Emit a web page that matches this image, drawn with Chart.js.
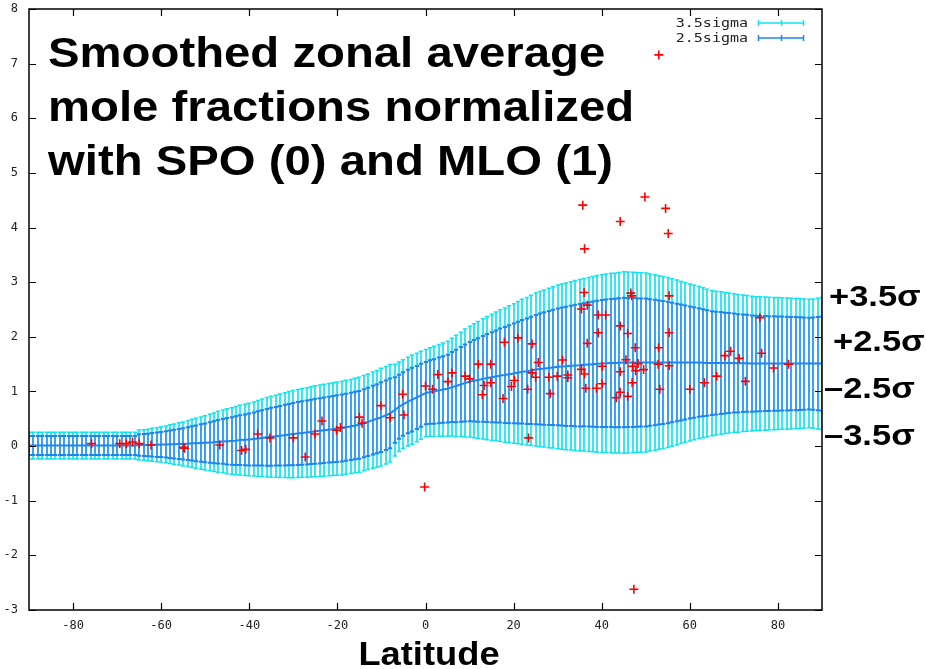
<!DOCTYPE html>
<html>
<head>
<meta charset="utf-8">
<script src="https://cdn.jsdelivr.net/npm/chart.js"></script>
<style>
  body { margin: 0; background: #fff; }
  #wrap { width: 926px; height: 669px; }
</style>
</head>
<body>
<div id="wrap"><canvas id="myChart" width="926" height="669"></canvas></div>
<script>
// latitude grid of the smoothed curve: one bar per degree from -90 to 90
const latStart = -90;
const latStep = 1;

// smoothed zonal average (normalized), one value per degree
const center = [
  0.01, 0.01, 0.01, 0.01, 0.01, 0.01, 0.01, 0.01, 0.01, 0.01,
  0.01, 0.01, 0.01, 0.01, 0.01, 0.01, 0.01, 0.01, 0.01, 0.01,
  0.01, 0.01, 0.01, 0.01, 0.01,
  0.02, 0.02, 0.02, 0.025, 0.025, 0.03,
  0.03, 0.035, 0.035, 0.04, 0.04,
  0.045, 0.05, 0.05, 0.055, 0.06,
  0.065, 0.07, 0.08, 0.085, 0.09,
  0.095, 0.10, 0.11, 0.115, 0.12,
  0.13, 0.14, 0.15, 0.16, 0.17,
  0.18, 0.19, 0.20, 0.21, 0.22,
  0.23, 0.24, 0.25, 0.26, 0.27,
  0.28, 0.29, 0.30, 0.31, 0.32,
  0.33, 0.345, 0.36, 0.375, 0.39,
  0.42, 0.445, 0.475, 0.50, 0.53,
  0.565, 0.60, 0.66, 0.72, 0.77,
  0.815, 0.85, 0.89, 0.93, 0.97,
  0.99, 1.00, 1.02, 1.035, 1.05,
  1.08, 1.10, 1.13, 1.155, 1.18,
  1.195, 1.21, 1.23, 1.245, 1.26,
  1.275, 1.29, 1.30, 1.315, 1.33,
  1.345, 1.36, 1.37, 1.385, 1.40,
  1.41, 1.42, 1.43, 1.44, 1.45,
  1.455, 1.46, 1.47, 1.475, 1.48,
  1.49, 1.495, 1.50, 1.505, 1.51,
  1.515, 1.52, 1.52, 1.525, 1.53,
  1.53, 1.53, 1.53, 1.53, 1.53, 1.53, 1.53, 1.53, 1.53, 1.53,
  1.53, 1.53, 1.53, 1.53, 1.53,
  1.53, 1.53, 1.525, 1.52, 1.52, 1.52, 1.52, 1.52, 1.52, 1.52,
  1.515, 1.515, 1.515, 1.51, 1.51,
  1.51, 1.51, 1.51, 1.51, 1.51, 1.51, 1.51, 1.51, 1.51, 1.51,
  1.51, 1.51, 1.51, 1.51, 1.51
];

// smoothed standard deviation, one value per degree
const sigma = [
  0.070, 0.070, 0.070, 0.070, 0.070, 0.070, 0.070, 0.070, 0.070, 0.070,
  0.070, 0.070, 0.070, 0.070, 0.070, 0.070, 0.070, 0.070, 0.070, 0.070,
  0.070, 0.070, 0.070, 0.070, 0.070,
  0.078, 0.080, 0.083, 0.086, 0.089, 0.092,
  0.096, 0.101, 0.105, 0.110, 0.115,
  0.120, 0.126, 0.131, 0.137, 0.142,
  0.148, 0.153, 0.159, 0.164, 0.170,
  0.174, 0.178, 0.182, 0.186, 0.190,
  0.194, 0.199, 0.203, 0.208, 0.212,
  0.215, 0.218, 0.222, 0.225, 0.228,
  0.230, 0.232, 0.234, 0.236, 0.238,
  0.239, 0.240, 0.241, 0.243, 0.244,
  0.245, 0.246, 0.246, 0.247, 0.248,
  0.249, 0.250, 0.252, 0.253, 0.255,
  0.255, 0.255, 0.240, 0.234, 0.232,
  0.232, 0.233, 0.231, 0.230, 0.228,
  0.232, 0.236, 0.240, 0.244, 0.248,
  0.256, 0.265, 0.273, 0.282, 0.290,
  0.298, 0.306, 0.314, 0.322, 0.330,
  0.337, 0.344, 0.351, 0.358, 0.365,
  0.372, 0.379, 0.386, 0.393, 0.400,
  0.406, 0.411, 0.417, 0.422, 0.428,
  0.432, 0.436, 0.440, 0.444, 0.448,
  0.451, 0.455, 0.458, 0.462, 0.465,
  0.467, 0.469, 0.470, 0.472, 0.474,
  0.473, 0.472, 0.470, 0.469, 0.468,
  0.463, 0.459, 0.454, 0.450, 0.445,
  0.438, 0.431, 0.424, 0.417, 0.410,
  0.404, 0.398, 0.392, 0.386, 0.380,
  0.376, 0.373, 0.369, 0.366, 0.362,
  0.360, 0.357, 0.355, 0.352, 0.350,
  0.349, 0.348, 0.347, 0.346, 0.345,
  0.344, 0.343, 0.342, 0.341, 0.340,
  0.338, 0.336, 0.338, 0.342, 0.345
];

// station values (red crosses)
const pointLat = [
  -75.8, -69.4, -67.9, -66.5, -65.0, -62.3, -54.9, -54.7, -46.7, -41.75,
  -40.8, -38.1, -35.3, -30.0, -27.3, -25.1, -23.5, -20.2, -19.3, -15.0,
  -14.4, -10.1, -8.0, -5.2, -4.9, -0.2, 0.0, 1.6, 2.8, 5.1,
  6.0, 9.0, 10.0, 12.0, 14.8, 13.3, 14.8, 12.9, 17.9, 21.0,
  24.2, 20.2, 19.5, 17.6, 25.6, 24.2, 25.0, 23.2, 23.4, 28.0,
  29.9, 28.3, 31.1, 32.3, 32.3, 36.0, 36.7, 35.4, 39.2, 40.9,
  39.2, 36.7, 35.4, 36.1, 40.1, 40.1, 36.4, 38.8, 44.2, 45.9,
  47.6, 45.5, 47.0, 47.7, 48.25, 49.5, 44.2, 46.9, 44.2, 43.3,
  45.9, 46.6, 46.8, 55.3, 55.3, 52.9, 52.8, 55.3, 53.2, 60.0,
  63.3, 66.1, 67.95, 69.25, 71.2, 72.6, 75.9, 76.3, 79.0, 82.4,
  35.7, 49.8, 54.5, 44.2, 55.1, 36.1, 52.95, 47.3
];
const pointVal = [
  0.045, 0.045, 0.045, 0.075, 0.045, 0.02, -0.02, -0.04, 0.02, -0.08,
  -0.06, 0.22, 0.15, 0.15, -0.2, 0.22, 0.46, 0.29, 0.34, 0.53,
  0.42, 0.74, 0.52, 0.95, 0.57, -0.75, 1.10, 1.04, 1.31, 1.18,
  1.34, 1.28, 1.23, 1.50, 1.50, 1.11, 1.16, 0.94, 1.90, 1.98,
  1.87, 1.20, 1.09, 0.87, 1.53, 1.34, 1.26, 1.04, 0.15, 1.26,
  1.28, 0.96, 1.575, 1.30, 1.25, 2.81, 2.58, 2.51, 2.40, 2.40,
  2.075, 1.88, 1.405, 1.32, 1.46, 1.14, 1.06, 1.06, 2.20, 2.06,
  1.80, 1.58, 1.46, 1.38, 1.51, 1.40, 1.36, 1.16, 0.985, 0.885,
  0.91, 2.80, 2.75, 2.75, 2.075, 1.80, 1.50, 1.47, 1.04, 1.04,
  1.16, 1.28, 1.655, 1.735, 1.605, 1.185, 2.35, 1.70, 1.43, 1.50,
  4.41, 4.56, 4.35, 4.11, 3.89, 3.61, 7.16, -2.62
];

const xTicks = [-80, -60, -40, -20, 0, 20, 40, 60, 80];
const yTicks = [-3, -2, -1, 0, 1, 2, 3, 4, 5, 6, 7, 8];
const bandLevels = [3.5, 2.5];
const bandLabels = ['3.5sigma', '2.5sigma'];
const sideLabels = ['+3.5\u03c3', '+2.5\u03c3', '\u20132.5\u03c3', '\u20133.5\u03c3'];
const titleLines = ['Smoothed zonal average', 'mole fractions normalized', 'with SPO (0) and MLO (1)'];

const CYAN = '#10e4ee';
const BLUE = '#1f84f0';
const BLUE_BAR = '#3a95f5';

const lats = center.map((c, i) => latStart + i * latStep);

// draw the sigma error bars with the chart's scales
const errorBars = {
  id: 'errorBars',
  beforeDatasetsDraw(chart) {
    const {ctx, chartArea, scales: {x, y}} = chart;
    const half = Math.abs(x.getPixelForValue(latStep) - x.getPixelForValue(0)) / 2;
    ctx.save();
    ctx.beginPath();
    ctx.rect(chartArea.left, chartArea.top, chartArea.right - chartArea.left, chartArea.bottom - chartArea.top);
    ctx.clip();
    const styles = [[CYAN, CYAN, 1.5], [BLUE_BAR, BLUE, 2]];
    bandLevels.forEach((k, j) => {
      const [barCol, capCol, capW] = styles[j];
      center.forEach((c, i) => {
        const px = Math.round(x.getPixelForValue(lats[i]));
        const yt = y.getPixelForValue(c + k * sigma[i]);
        const yb = y.getPixelForValue(c - k * sigma[i]);
        ctx.strokeStyle = barCol;
        ctx.lineWidth = 1.7;
        ctx.beginPath();
        ctx.moveTo(px, yt);
        ctx.lineTo(px, yb);
        ctx.stroke();
        ctx.strokeStyle = capCol;
        ctx.lineWidth = capW;
        ctx.beginPath();
        ctx.moveTo(px - half, yt);
        ctx.lineTo(px + half, yt);
        ctx.moveTo(px - half, yb);
        ctx.lineTo(px + half, yb);
        ctx.stroke();
      });
    });
    ctx.restore();
  }
};

function stretchText(ctx, text, x, y, sx, align) {
  ctx.save();
  ctx.translate(x, y);
  ctx.scale(sx, 1);
  ctx.textAlign = align || 'left';
  ctx.fillText(text, 0, 0);
  ctx.restore();
}

// frame, inward ticks and the text annotations
const decorations = {
  id: 'decorations',
  afterDraw(chart) {
    const {ctx, chartArea: a, scales: {x, y}} = chart;
    ctx.save();
    ctx.strokeStyle = '#000';
    ctx.lineWidth = 1.5;
    ctx.strokeRect(a.left, a.top, a.right - a.left, a.bottom - a.top);
    ctx.lineWidth = 1.2;
    ctx.beginPath();
    xTicks.forEach(v => {
      const px = Math.round(x.getPixelForValue(v)) + 0.5;
      ctx.moveTo(px, a.bottom); ctx.lineTo(px, a.bottom - 7);
      ctx.moveTo(px, a.top); ctx.lineTo(px, a.top + 7);
    });
    yTicks.forEach(v => {
      const py = Math.round(y.getPixelForValue(v)) + 0.5;
      ctx.moveTo(a.left, py); ctx.lineTo(a.left + 7, py);
      ctx.moveTo(a.right, py); ctx.lineTo(a.right - 7, py);
    });
    ctx.stroke();

    // legend
    ctx.fillStyle = '#222';
    ctx.font = '12px "DejaVu Sans Mono"';
    ctx.textBaseline = 'alphabetic';
    [CYAN, BLUE].forEach((col, i) => {
      const ly = 23 + i * 15;
      stretchText(ctx, bandLabels[i], 748, ly + 4, 1.25, 'right');
      ctx.strokeStyle = col;
      ctx.lineWidth = 1.5;
      ctx.beginPath();
      ctx.moveTo(758, ly); ctx.lineTo(804, ly);
      ctx.moveTo(758.5, ly - 3); ctx.lineTo(758.5, ly + 3);
      ctx.moveTo(781.5, ly - 3); ctx.lineTo(781.5, ly + 3);
      ctx.moveTo(803.5, ly - 3); ctx.lineTo(803.5, ly + 3);
      ctx.stroke();
    });

    // title block
    ctx.fillStyle = '#000';
    ctx.font = 'bold 43px "Liberation Sans", Arial, sans-serif';
    titleLines.forEach((t, i) => stretchText(ctx, t, 48, 67 + i * 54, 1.1));

    // sigma labels on the right
    ctx.font = 'bold 30px "Liberation Sans", Arial, sans-serif';
    const sx = [829, 833, 824, 824];
    const sy = [306, 351, 398, 445];
    sideLabels.forEach((t, i) => stretchText(ctx, t, sx[i], sy[i], 1.15));

    // x axis title
    ctx.font = 'bold 33px "Liberation Sans", Arial, sans-serif';
    stretchText(ctx, 'Latitude', 429, 665, 1.1, 'center');
    ctx.restore();
  }
};

const ctx = document.getElementById('myChart').getContext('2d');
const chart = new Chart(ctx, {
  type: 'scatter',
  data: {
    datasets: [{
      type: 'scatter',
      data: pointLat.map((v, i) => ({x: v, y: pointVal[i]})),
      pointStyle: 'cross',
      pointRadius: 4.5,
      borderColor: '#ff0000',
      backgroundColor: '#ff0000',
      borderWidth: 1.6,
      order: 0
    }, {
      type: 'line',
      data: center.map((c, i) => ({x: lats[i], y: c})),
      borderColor: BLUE,
      borderWidth: 2,
      pointRadius: 0,
      tension: 0,
      order: 1
    }]
  },
  options: {
    responsive: false,
    animation: false,
    devicePixelRatio: 1,
    layout: {autoPadding: false, padding: {left: 0, top: 9, right: 104, bottom: 0}},
    plugins: {legend: {display: false}, tooltip: {enabled: false}},
    scales: {
      x: {
        type: 'linear',
        min: -90, max: 90,
        afterBuildTicks: s => { s.ticks = xTicks.map(v => ({value: v})); },
        afterFit: s => { s.height = 59; s.paddingLeft = 0; s.paddingRight = 0; },
        grid: {display: false, drawTicks: false},
        border: {display: false},
        ticks: {padding: 9, color: '#222', font: {family: 'DejaVu Sans Mono', size: 12}, maxRotation: 0}
      },
      y: {
        min: -3, max: 8,
        afterBuildTicks: s => { s.ticks = yTicks.map(v => ({value: v})); },
        afterFit: s => { s.width = 29; s.paddingTop = 0; s.paddingBottom = 0; },
        grid: {display: false, drawTicks: false},
        border: {display: false},
        ticks: {padding: 11, color: '#222', font: {family: 'DejaVu Sans Mono', size: 12}}
      }
    }
  },
  plugins: [errorBars, decorations]
});
</script>
</body>
</html>
